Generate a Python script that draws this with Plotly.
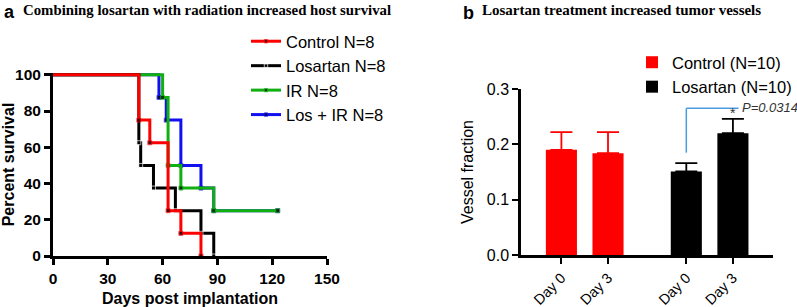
import plotly.graph_objects as go

# ---------------- Data ----------------
# Panel a: Kaplan-Meier survival (days, percent survival)
ctrl_days = [0, 47, 53, 63, 70, 81]
ctrl_surv = [100, 75, 62.5, 25, 12.5, 0]
los_days = [0, 47, 48, 55, 67, 81, 88]
los_surv = [100, 62.5, 50, 37.5, 25, 12.5, 0]
ir_days = [0, 60, 63, 70, 88, 123]
ir_surv = [100, 87.5, 50, 37.5, 25, 25]
losir_days = [0, 58, 62, 70, 81, 88, 123]
losir_surv = [100, 87.5, 75, 50, 37.5, 25, 25]

# Panel b: vessel fraction
day_labels = ["Day 0", "Day 3"]
ctrl_mean = [0.190, 0.184]
ctrl_err = [0.032, 0.038]
los_mean = [0.151, 0.220]
los_err = [0.015, 0.026]
p_text = "P=0.0314"
bracket_level = 0.265

GROUP_GAP = 2.68  # group offset in bar units
ctrl_x = [i for i in range(len(day_labels))]
los_x = [i + GROUP_GAP for i in range(len(day_labels))]

fig = go.Figure()

def km_trace(days, surv, name, color, rank):
    sizes = [0] + [4] * (len(days) - 1)
    return go.Scatter(
        x=days, y=surv, name=name, mode="lines+markers",
        line=dict(color=color, width=3, shape="hv"),
        marker=dict(color="black", size=sizes, symbol="square"),
        xaxis="x", yaxis="y", legend="legend", legendrank=rank,
        cliponaxis=False,
    )

fig.add_trace(km_trace(losir_days, losir_surv, "Los + IR N=8", "#1010f0", 4))
fig.add_trace(km_trace(ir_days, ir_surv, "IR N=8", "#10b010", 3))
fig.add_trace(km_trace(los_days, los_surv, "Losartan N=8", "black", 2))
fig.add_trace(km_trace(ctrl_days, ctrl_surv, "Control N=8", "#ff0000", 1))

fig.add_trace(go.Bar(
    x=ctrl_x, y=ctrl_mean, name="Control (N=10)", width=0.667,
    marker=dict(color="#ff0000", line=dict(width=0)),
    error_y=dict(type="data", array=ctrl_err, arrayminus=[0] * len(ctrl_err),
                 symmetric=False, color="#ff0000", thickness=1.8, width=11),
    xaxis="x2", yaxis="y2", legend="legend2",
))
fig.add_trace(go.Bar(
    x=los_x, y=los_mean, name="Losartan (N=10)", width=0.667,
    marker=dict(color="black", line=dict(width=0)),
    error_y=dict(type="data", array=los_err, arrayminus=[0] * len(los_err),
                 symmetric=False, color="black", thickness=1.8, width=11),
    xaxis="x2", yaxis="y2", legend="legend2",
))

# significance bracket
fig.add_shape(type="line", xref="x2", yref="y2",
              x0=los_x[0], x1=los_x[0], y0=0.185, y1=bracket_level,
              line=dict(color="#4a9be0", width=1.5))
fig.add_shape(type="line", xref="x2", yref="y2",
              x0=los_x[0], x1=los_x[1] + 0.12, y0=bracket_level, y1=bracket_level,
              line=dict(color="#4a9be0", width=1.5))
fig.add_annotation(xref="x2", yref="y2", x=los_x[1], y=los_mean[1] + los_err[1],
                   text="*", showarrow=False, yanchor="bottom", yshift=-4,
                   font=dict(family="Arial, Liberation Sans", size=14, color="#333"))
fig.add_annotation(xref="x2", yref="y2", x=los_x[1] + 0.16, y=bracket_level,
                   text="<i>" + p_text + "</i>", showarrow=False, xanchor="left",
                   yanchor="middle", yshift=1,
                   font=dict(family="Arial, Liberation Sans", size=13, color="#333"))

# titles
fig.add_annotation(xref="paper", yref="paper", x=2 / 797, y=1 - 0 / 307,
                   text="<b>a</b>", showarrow=False, xanchor="left", yanchor="top",
                   font=dict(family="Arial, Liberation Sans", size=18, color="black"))
fig.add_annotation(xref="paper", yref="paper", x=21 / 797, y=1 - 0 / 307,
                   text="<b>Combining losartan with radiation increased host survival</b>",
                   showarrow=False, xanchor="left", yanchor="top",
                   font=dict(family="Liberation Serif, Times New Roman", size=14.8, color="black"))
fig.add_annotation(xref="paper", yref="paper", x=461 / 797, y=1 - 1 / 307,
                   text="<b>b</b>", showarrow=False, xanchor="left", yanchor="top",
                   font=dict(family="Arial, Liberation Sans", size=18, color="black"))
fig.add_annotation(xref="paper", yref="paper", x=480 / 797, y=1 - 0 / 307,
                   text="<b>Losartan treatment increased tumor vessels</b>",
                   showarrow=False, xanchor="left", yanchor="top",
                   font=dict(family="Liberation Serif, Times New Roman", size=15, color="black"))

W, H = 797, 307
fig.update_layout(
    width=W, height=H, margin=dict(l=0, r=0, t=0, b=0, autoexpand=False),
    paper_bgcolor="white", plot_bgcolor="white", showlegend=True,
    barmode="overlay",
    xaxis=dict(domain=[53 / W, 327 / W], range=[0, 150], tickvals=[0, 30, 60, 90, 120, 150],
               automargin=False,
               showgrid=False, zeroline=False, showline=True, linecolor="black", linewidth=3,
               ticks="outside", ticklen=6, tickwidth=3, tickcolor="black",
               tickfont=dict(family="Arial, Liberation Sans", size=15.5, color="black", weight="bold"),
               title=dict(text="<b>Days post implantation</b>", standoff=8,
                          font=dict(family="Arial, Liberation Sans", size=16, color="black")),
               anchor="y"),
    yaxis=dict(domain=[1 - 256 / H, 1 - 73 / H], range=[0, 101], tickvals=[0, 20, 40, 60, 80, 100],
               automargin=False,
               showgrid=False, zeroline=False, showline=True, linecolor="black", linewidth=3,
               ticks="outside", ticklen=6, tickwidth=3, tickcolor="black",
               tickfont=dict(family="Arial, Liberation Sans", size=15.5, color="black", weight="bold"),
               title=dict(text="<b>Percent survival</b>", standoff=6,
                          font=dict(family="Arial, Liberation Sans", size=16, color="black")),
               anchor="x"),
    xaxis2=dict(domain=[521 / W, 773 / W], range=[-0.867, 4.54],
                automargin=False,
                tickvals=ctrl_x + los_x, ticktext=day_labels + day_labels, tickangle=-45,
                showgrid=False, zeroline=False, showline=True, linecolor="black", linewidth=2.5,
                ticks="outside", ticklen=6, tickwidth=2, tickcolor="black",
                tickfont=dict(family="Arial, Liberation Sans", size=14.5, color="black"),
                anchor="y2"),
    yaxis2=dict(domain=[1 - 255 / H, 1 - 89 / H], range=[0, 0.3], tickvals=[0, 0.1, 0.2, 0.3],
                tickformat=".1f", automargin=False,
                showgrid=False, zeroline=False, showline=True, linecolor="black", linewidth=2.5,
                ticks="outside", ticklen=6, tickwidth=2, tickcolor="black",
                tickfont=dict(family="Arial, Liberation Sans", size=16, color="black"),
                title=dict(text="Vessel fraction", standoff=10,
                           font=dict(family="Arial, Liberation Sans", size=16, color="black")),
                anchor="x2"),
    legend=dict(x=246 / W, y=1 - 24 / H, xanchor="left", yanchor="top",
                bgcolor="rgba(0,0,0,0)", tracegroupgap=0, itemwidth=30,
                font=dict(family="Arial, Liberation Sans", size=16.5, color="black")),
    legend2=dict(x=632 / W, y=1 - 45 / H, xanchor="left", yanchor="top",
                 bgcolor="rgba(0,0,0,0)", tracegroupgap=0, itemwidth=30,
                 font=dict(family="Arial, Liberation Sans", size=16.5, color="black")),
)

fig.write_html("out.html", config={"displayModeBar": False},
               post_script="document.body.style.margin='0';document.body.style.overflow='hidden';")
